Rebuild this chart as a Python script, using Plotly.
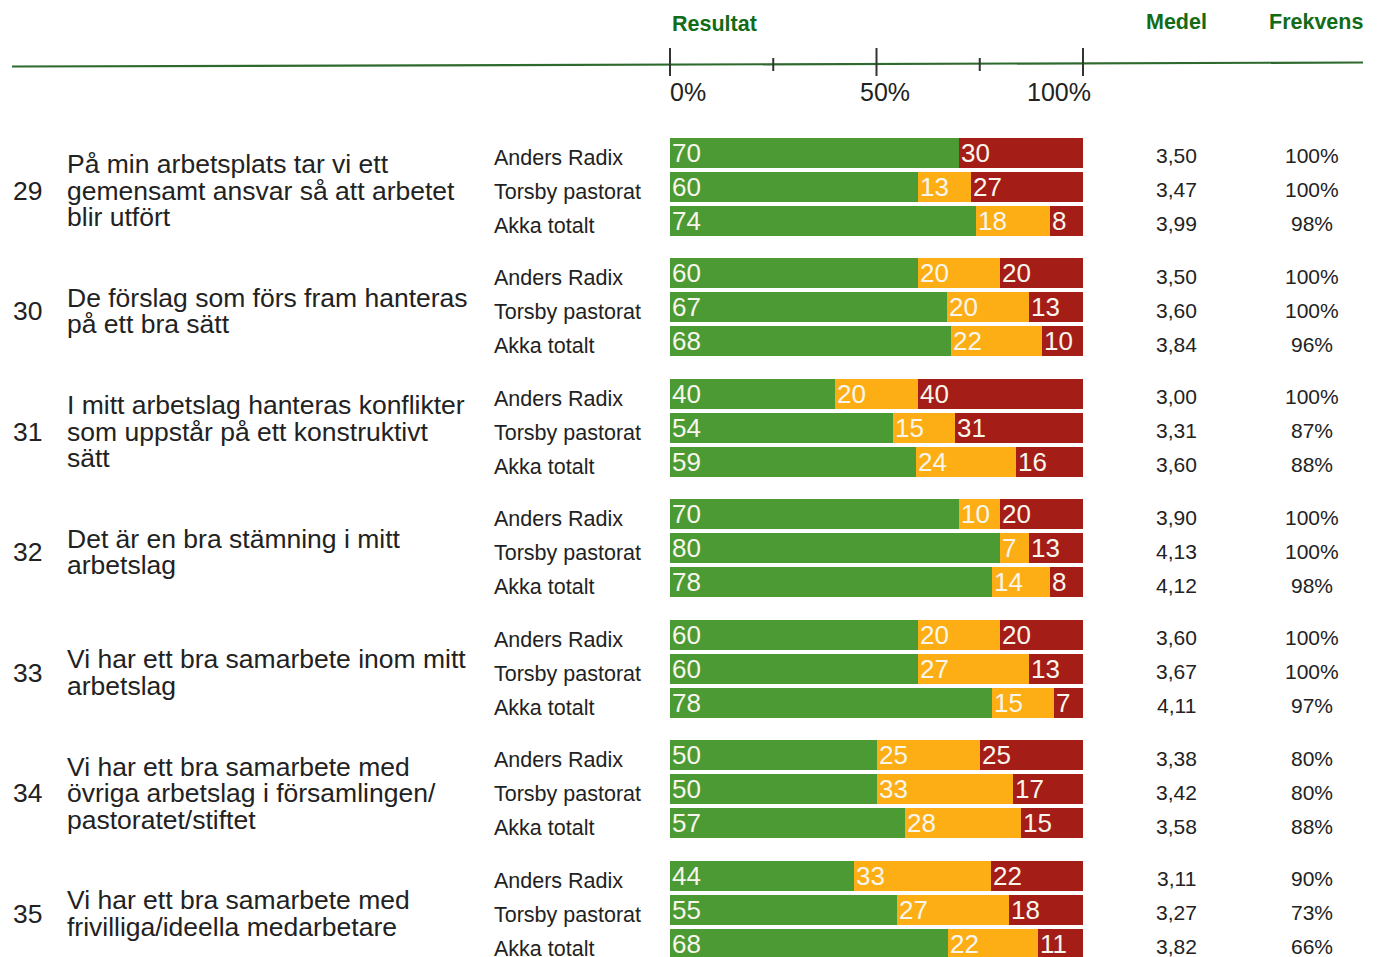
import plotly.graph_objects as go

# ---------------- data ----------------
question_numbers = ["29", "30", "31", "32", "33", "34", "35"]
question_lines = [
    ["På min arbetsplats tar vi ett", "gemensamt ansvar så att arbetet", "blir utfört"],
    ["De förslag som förs fram hanteras", "på ett bra sätt"],
    ["I mitt arbetslag hanteras konflikter", "som uppstår på ett konstruktivt", "sätt"],
    ["Det är en bra stämning i mitt", "arbetslag"],
    ["Vi har ett bra samarbete inom mitt", "arbetslag"],
    ["Vi har ett bra samarbete med", "övriga arbetslag i församlingen/", "pastoratet/stiftet"],
    ["Vi har ett bra samarbete med", "frivilliga/ideella medarbetare"],
]
units = ["Anders Radix", "Torsby pastorat", "Akka totalt"]
green = [[70, 60, 74], [60, 67, 68], [40, 54, 59], [70, 80, 78], [60, 60, 78], [50, 50, 57], [44, 55, 68]]
yellow = [[0, 13, 18], [20, 20, 22], [20, 15, 24], [10, 7, 14], [20, 27, 15], [25, 33, 28], [33, 27, 22]]
red = [[30, 27, 8], [20, 13, 10], [40, 31, 16], [20, 13, 8], [20, 13, 7], [25, 17, 15], [22, 18, 11]]
medel = [["3,50", "3,47", "3,99"], ["3,50", "3,60", "3,84"], ["3,00", "3,31", "3,60"],
         ["3,90", "4,13", "4,12"], ["3,60", "3,67", "4,11"], ["3,38", "3,42", "3,58"],
         ["3,11", "3,27", "3,82"]]
frekvens = [["100%", "100%", "98%"], ["100%", "100%", "96%"], ["100%", "87%", "88%"],
            ["100%", "100%", "98%"], ["100%", "100%", "97%"], ["80%", "80%", "88%"],
            ["90%", "73%", "66%"]]
axis_ticks_major = [0, 50, 100]
axis_ticks_minor = [25, 75]
axis_tick_labels = ["0%", "50%", "100%"]

# ---------------- layout constants ----------------
OFF = 8  # page body margin
W, H = 1379 - OFF, 957 - OFF
X0_PX, X100_PX = 670 - OFF, 1083 - OFF
PXU = (X100_PX - X0_PX) / 100.0
XR = [-X0_PX / PXU, (W - X0_PX) / PXU]
FIRST_Y = 152.5 - OFF
GROUP_PITCH = 120.5
ROW_PITCH = 34
BAR_H = 30

C_GREEN = "#4c9a34"
C_YEL = "#fdae14"
C_RED = "#a41d16"
C_HEAD = "#126b16"
C_TXT = "#222222"
FONT = "Liberation Sans, Arial, sans-serif"
TXT_IN = "#f8f6ec"


def px_to_x(px):
    return (px - OFF - X0_PX) / PXU


def py(p):
    return p - OFF


ys, gw, yw, rw, gb, yb, rb = [], [], [], [], [], [], []
labels = []
for g in range(len(green)):
    for r in range(3):
        y = FIRST_Y + g * GROUP_PITCH + r * ROW_PITCH
        tot = green[g][r] + yellow[g][r] + red[g][r]
        s = 100.0 / tot
        a, b, c = green[g][r] * s, yellow[g][r] * s, red[g][r] * s
        ys.append(y)
        gw.append(a); yw.append(b); rw.append(c)
        gb.append(0); yb.append(a); rb.append(a + b)
        for val, base in ((green[g][r], 0), (yellow[g][r], a), (red[g][r], a + b)):
            if val > 0:
                labels.append((base, y, str(val)))

fig = go.Figure()
for widths, bases, col, name in ((gw, gb, C_GREEN, "green"), (yw, yb, C_YEL, "yellow"), (rw, rb, C_RED, "red")):
    fig.add_trace(go.Bar(
        x=widths, base=bases, y=ys, orientation="h", width=BAR_H,
        marker=dict(color=col, line=dict(width=0)), name=name, showlegend=False,
        hoverinfo="skip",
    ))

ann = []
for base, y, t in labels:
    ann.append(dict(x=base, y=y, xref="x", yref="y", text=t, showarrow=False,
                    xanchor="left", yanchor="middle", xshift=0,
                    font=dict(family=FONT, size=26, color=TXT_IN)))

for g in range(len(green)):
    mid = FIRST_Y + g * GROUP_PITCH + ROW_PITCH
    ann.append(dict(x=px_to_x(11), y=mid + 4, xref="x", yref="y", text=question_numbers[g],
                    showarrow=False, xanchor="left", yanchor="middle",
                    font=dict(family=FONT, size=26.5, color=C_TXT)))
    lines = question_lines[g]
    n = len(lines)
    for i, line in enumerate(lines):
        yy = mid + 4 + (i - (n - 1) / 2) * 26.5
        ann.append(dict(x=px_to_x(65), y=yy, xref="x", yref="y", text=line,
                        showarrow=False, xanchor="left", yanchor="middle",
                        font=dict(family=FONT, size=26.5, color=C_TXT)))
    for r in range(3):
        y = FIRST_Y + g * GROUP_PITCH + r * ROW_PITCH
        ann.append(dict(x=px_to_x(492), y=y + 5, xref="x", yref="y", text=units[r],
                        showarrow=False, xanchor="left", yanchor="middle",
                        font=dict(family=FONT, size=21.5, color=C_TXT)))
        ann.append(dict(x=px_to_x(1176), y=y + 3, xref="x", yref="y", text=medel[g][r],
                        showarrow=False, xanchor="center", yanchor="middle",
                        font=dict(family=FONT, size=21, color=C_TXT)))
        ann.append(dict(x=px_to_x(1312), y=y + 3, xref="x", yref="y", text=frekvens[g][r],
                        showarrow=False, xanchor="center", yanchor="middle",
                        font=dict(family=FONT, size=21, color=C_TXT)))

# headers
ann.append(dict(x=0, y=py(24), xref="x", yref="y", text="<b>Resultat</b>", showarrow=False,
                xanchor="left", yanchor="middle", font=dict(family=FONT, size=21.5, color=C_HEAD)))
ann.append(dict(x=px_to_x(1176), y=py(22), xref="x", yref="y", text="<b>Medel</b>", showarrow=False,
                xanchor="center", yanchor="middle", font=dict(family=FONT, size=21.5, color=C_HEAD)))
ann.append(dict(x=px_to_x(1316), y=py(22), xref="x", yref="y", text="<b>Frekvens</b>", showarrow=False,
                xanchor="center", yanchor="middle", font=dict(family=FONT, size=21.5, color=C_HEAD)))

# axis tick labels
label_anchor = ["left", "center", "right"]
label_shift = [-2, 8, 10]
for v, t, anc, sh in zip(axis_ticks_major, axis_tick_labels, label_anchor, label_shift):
    ann.append(dict(x=v, y=py(92), xref="x", yref="y", text=t, showarrow=False,
                    xanchor=anc, yanchor="middle", xshift=sh,
                    font=dict(family=FONT, size=25, color=C_TXT)))

shapes = [dict(type="line", xref="x", yref="y", x0=px_to_x(12), x1=px_to_x(1363), y0=py(66.5), y1=py(62.5),
               line=dict(color="#2e6a2e", width=2.2))]
for v in axis_ticks_major:
    shapes.append(dict(type="line", xref="x", yref="y", x0=v, x1=v, y0=py(48), y1=py(76),
                       line=dict(color="#333333", width=2)))
for v in axis_ticks_minor:
    shapes.append(dict(type="line", xref="x", yref="y", x0=v, x1=v, y0=py(58), y1=py(71),
                       line=dict(color="#333333", width=2)))

fig.update_layout(
    width=W, height=H, margin=dict(l=0, r=0, t=0, b=0),
    paper_bgcolor="white", plot_bgcolor="white",
    barmode="overlay", bargap=0,
    xaxis=dict(range=XR, visible=False, fixedrange=True),
    yaxis=dict(range=[H, 0], visible=False, fixedrange=True),
    annotations=ann, shapes=shapes,
)

fig.write_html("out.html")
